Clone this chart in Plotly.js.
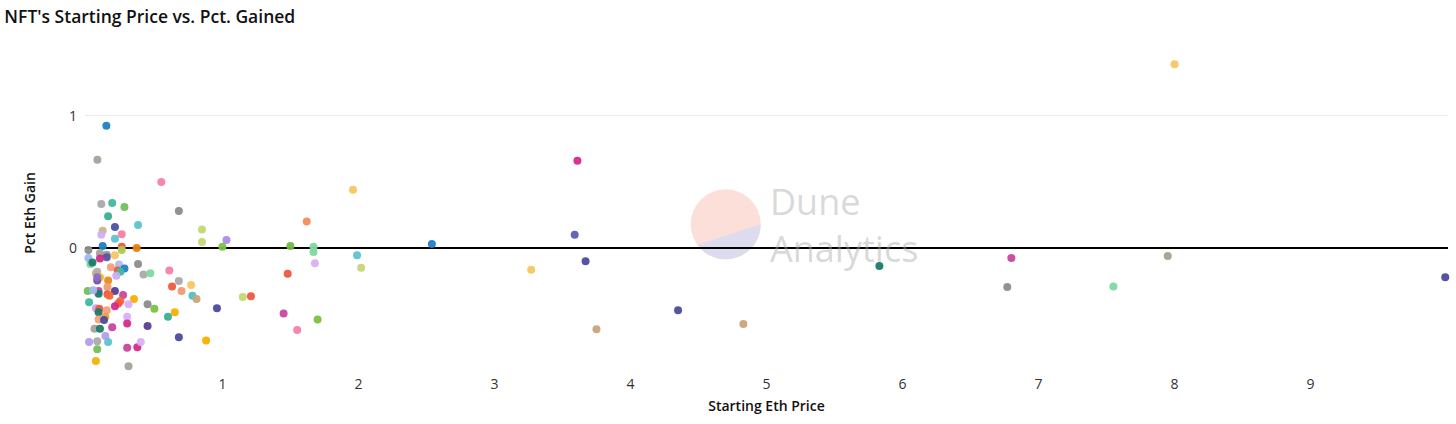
<!DOCTYPE html>
<html>
<head>
<meta charset="utf-8">
<script src="https://cdn.plot.ly/plotly-3.0.1.min.js"></script>
<style>html,body{margin:0;padding:0;background:#fff;}#chart{width:1456px;height:424px;}</style>
</head>
<body>
<div id="chart"></div>
<script>
// Starting ETH price of each NFT collection
var startingEthPrice = [
  0.147, 0.081, 0.551, 0.11, 0.19, 0.28, 0.16, 0.68, 0.38, 0.85,
  0.12, 0.11, 0.21, 0.26, 0.21, 0.85, 1.03, 1.0, 0.12, 0.26,
  0.37, 0.015, 0.26, 0.10, 0.15, 0.15, 0.21, 0.015, 0.10, 0.03,
  0.045, 0.24, 0.28, 0.38, 0.18, 0.23, 0.25, 0.22, 0.42, 0.47,
  0.61, 0.07, 0.08, 0.10, 0.08, 0.08, 0.16, 0.68, 0.77, 0.63,
  0.70, 0.155, 0.78, 0.81, 0.01, 0.09, 0.09, 0.05, 0.21, 0.155,
  0.17, 0.27, 0.35, 0.25, 0.235, 0.21, 0.31, 0.02, 0.45, 0.50,
  0.65, 0.60, 0.96, 1.15, 1.21, 0.07, 0.095, 0.15, 0.09, 0.14,
  0.09, 0.13, 0.30, 0.30, 0.06, 0.10, 0.45, 0.19, 0.14, 0.68,
  0.88, 0.02, 0.08, 0.16, 0.08, 0.30, 0.375, 0.40, 0.07, 0.31,
  1.45, 1.48, 1.55, 1.50, 1.62, 1.67, 1.67, 1.68, 1.70, 1.96,
  1.99, 2.02, 2.54, 3.27, 3.61, 3.59, 3.67, 3.75, 4.35, 4.83,
  5.83, 6.80, 6.77, 7.55, 7.95, 8.00, 9.99
];
// Percentage ETH gain
var pctEthGain = [
  0.924, 0.667, 0.50, 0.333, 0.34, 0.31, 0.24, 0.28, 0.175, 0.14,
  0.13, 0.10, 0.16, 0.105, 0.07, 0.045, 0.06, 0.01, 0.015, 0.01,
  0.0, -0.015, -0.015, -0.04, -0.05, -0.07, -0.055, -0.075, -0.08, -0.12,
  -0.11, -0.125, -0.155, -0.12, -0.145, -0.17, -0.18, -0.21, -0.20, -0.19,
  -0.17, -0.19, -0.18, -0.22, -0.245, -0.22, -0.245, -0.25, -0.28, -0.29,
  -0.325, -0.295, -0.36, -0.385, -0.325, -0.325, -0.345, -0.32, -0.325, -0.35,
  -0.36, -0.355, -0.385, -0.40, -0.42, -0.44, -0.425, -0.41, -0.425, -0.46,
  -0.485, -0.52, -0.455, -0.37, -0.365, -0.455, -0.46, -0.47, -0.485, -0.52,
  -0.54, -0.545, -0.52, -0.57, -0.61, -0.61, -0.59, -0.60, -0.665, -0.675,
  -0.70, -0.71, -0.705, -0.71, -0.765, -0.755, -0.75, -0.71, -0.855, -0.895,
  -0.495, -0.195, -0.62, 0.015, 0.20, 0.01, -0.03, -0.115, -0.54, 0.44,
  -0.055, -0.15, 0.03, -0.165, 0.66, 0.10, -0.10, -0.615, -0.47, -0.575,
  -0.135, -0.075, -0.295, -0.29, -0.06, 1.39, -0.22
];
// Colour of each collection's dot
var dotColors = [
  '#1f7fc4','#a3a39a','#f77fa6','#aaaaaa','#3dba9e','#72c05a','#3aaf97','#8c8c8c','#5cc3cf','#c3d873',
  '#cbb486','#d2b0f0','#4c51a3','#f77fa6','#5cc3cf','#c3d873','#ad8ae6','#7cc23f','#1f7fc4','#f0563f',
  '#ea7d10','#8e8e8e','#a9cc54','#a3a39a','#9a9a9a','#5457a8','#f5c75f','#9fb7ee','#d42b8a','#73d89a',
  '#1e7a6a','#a9bdf0','#1f7fc4','#8c8c8c','#f4a07c','#f0563f','#3dba9e','#c6aef0','#aaaaaa','#7dd9a0',
  '#f77fa6','#cbb486','#b0b0a8','#f5b822','#7a4fa8','#8e6cc8','#ea8a1a','#aaaaaa','#f5c75f','#f05a3c',
  '#f49a70','#f49a70','#4fc0c6','#c9a57a','#72c05a','#c8479f','#1e7a6a','#9fb7ee','#5a3e96','#f05a3c',
  '#f26a3a','#c8479f','#f5b000','#f26a3a','#f05a3c','#d42b8a','#dcaef5','#3dba9e','#8c8c8c','#7cc23f',
  '#f5b000','#3aaf97','#4c4c9a','#c3d873','#f0563f','#c9a8ee','#f0563f','#f4a07c','#1e7a6a','#f29a40',
  '#f4a07c','#4c4c9a','#dcaef5','#d42b8a','#a3a39a','#1e7a6a','#5a3e96','#c8479f','#b89cf0','#4c4c9a',
  '#f5b000','#b39af0','#aaaaaa','#5cc3cf','#72c05a','#c8479f','#d42b8a','#dcaef5','#f5b000','#a3a39a',
  '#c8479f','#f0563f','#f77fa6','#72b84a','#f48c5c','#7dd9a0','#7dd9a0','#dcaef5','#7cc23f','#f5c75f',
  '#5cc3cf','#c3d873','#1f7fc4','#f5c75f','#d42b8a','#5a5eb0','#4c4c9a','#c9a57a','#4c4c9a','#c9a57a',
  '#1e7a6a','#c8479f','#8c8c8c','#7dd9a0','#a3a38f','#f5c75f','#4c4c9a'
];
var xTicks = [1, 2, 3, 4, 5, 6, 7, 8, 9];
var yTicks = [0, 1];

var FONT = '"Open Sans", "Noto Sans", sans-serif';

// watermark logo: lower segment path (pixel units relative to centre, y up)
function lowerSegment(r, a0, a1) {
  var p = '';
  var n = 40;
  for (var i = 0; i <= n; i++) {
    var a = (a0 + (a1 - a0) * i / n) * Math.PI / 180;
    p += (i === 0 ? 'M' : 'L') + (r * Math.cos(a)).toFixed(2) + ',' + (r * Math.sin(a)).toFixed(2);
  }
  return p + 'Z';
}

var trace = {
  type: 'scatter',
  mode: 'markers',
  x: startingEthPrice,
  y: pctEthGain,
  marker: {color: dotColors, size: 8, opacity: 0.95, line: {width: 0}},
  cliponaxis: false,
  hoverinfo: 'x+y'
};

var layout = {
  width: 1456, height: 424,
  margin: {l: 85, r: 8, t: 55, b: 53},
  paper_bgcolor: '#fff', plot_bgcolor: '#fff',
  showlegend: false,
  title: {text: "NFT's Starting Price vs. Pct. Gained", x: 0.003, xanchor: 'left', y: 0.96, yanchor: 'middle',
          font: {family: FONT, size: 17.5, color: '#111', weight: 600}},
  xaxis: {
    range: [-0.01, 10.01], tickvals: xTicks, showgrid: false, zeroline: false, showline: false,
    ticks: '', ticklabelstandoff: 3, tickfont: {family: FONT, size: 14, color: '#333'},
    title: {text: 'Starting Eth Price', standoff: 9, font: {family: FONT, size: 14, color: '#111', weight: 600}}
  },
  yaxis: {
    range: [-0.93, 1.46], tickvals: yTicks, showgrid: true, gridcolor: '#ececec', gridwidth: 1,
    zeroline: true, zerolinecolor: '#000', zerolinewidth: 1.3, showline: false, ticks: '',
    ticklabelstandoff: 7, tickfont: {family: FONT, size: 14, color: '#333'},
    title: {text: 'Pct Eth Gain', standoff: 30, font: {family: FONT, size: 14, color: '#111', weight: 600}}
  },
  shapes: [
    {type: 'circle', layer: 'below', xref: 'x', yref: 'y', xsizemode: 'pixel', ysizemode: 'pixel',
     xanchor: 4.70, yanchor: 0.18, x0: -35, x1: 35, y0: -35, y1: 35,
     fillcolor: '#fcdfd9', line: {width: 0}},
    {type: 'path', layer: 'below', xref: 'x', yref: 'y', xsizemode: 'pixel', ysizemode: 'pixel',
     xanchor: 4.70, yanchor: 0.18, path: lowerSegment(35, 0, -143.5),
     fillcolor: '#dcdcee', line: {width: 0}}
  ],
  annotations: [
    {text: 'Dune<br>Analytics', xref: 'x', yref: 'y', x: 5.01, y: 0.175, xanchor: 'left', yanchor: 'middle',
     align: 'left', showarrow: false,
     font: {family: FONT, size: 36, color: 'rgba(170,170,170,0.45)', weight: 400}}
  ]
};

Plotly.newPlot('chart', [trace], layout, {displayModeBar: false, staticPlot: true});
</script>
</body>
</html>
